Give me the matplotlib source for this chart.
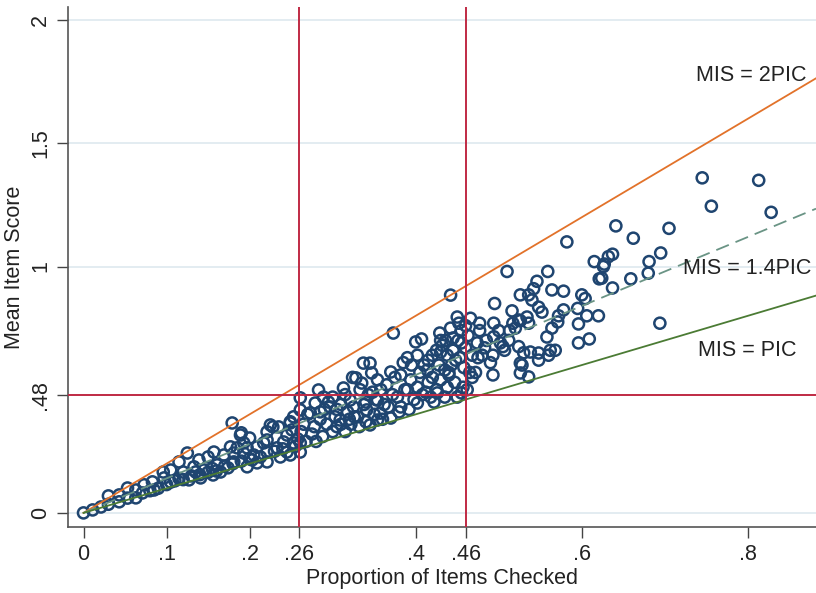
import matplotlib.pyplot as plt
import numpy as np

plt.rcParams['font.family'] = ['Liberation Sans', 'DejaVu Sans']

# Proportion of items checked (PIC) and mean item score (MIS)
pic_low = [0, 0.011, 0.021, 0.03, 0.03, 0.043, 0.043, 0.053, 0.053, 0.063, 0.063, 0.071,
           0.073, 0.08, 0.083, 0.085, 0.09, 0.096, 0.097, 0.1, 0.105, 0.105, 0.11, 0.115,
           0.115, 0.12, 0.12, 0.125, 0.127, 0.13, 0.133, 0.135, 0.139, 0.14, 0.141, 0.145,
           0.15, 0.15, 0.155, 0.156, 0.157, 0.16, 0.161, 0.165, 0.169, 0.17, 0.174, 0.177,
           0.179, 0.18, 0.181, 0.181, 0.185, 0.189, 0.19, 0.19, 0.193, 0.193, 0.197, 0.197,
           0.2, 0.2]
mis_low = [0, 0.012, 0.024, 0.035, 0.069, 0.045, 0.073, 0.06, 0.101, 0.061, 0.093, 0.081,
           0.114, 0.09, 0.126, 0.093, 0.1, 0.166, 0.142, 0.115, 0.174, 0.125, 0.13, 0.207,
           0.14, 0.166, 0.135, 0.243, 0.134, 0.15, 0.187, 0.166, 0.215, 0.155, 0.142, 0.174,
           0.227, 0.165, 0.18, 0.154, 0.247, 0.17, 0.195, 0.166, 0.235, 0.19, 0.183, 0.268,
           0.365, 0.2, 0.207, 0.243, 0.264, 0.316, 0.325, 0.21, 0.243, 0.284, 0.187, 0.264,
           0.304, 0.22]

pic_mid = [0.203, 0.205, 0.209, 0.209, 0.213, 0.217, 0.221, 0.221, 0.221, 0.221, 0.225, 0.228,
           0.23, 0.233, 0.235, 0.237, 0.24, 0.241, 0.245, 0.245, 0.249, 0.249, 0.249, 0.251,
           0.253, 0.253, 0.255, 0.258, 0.261, 0.261, 0.261, 0.261, 0.262, 0.265, 0.268, 0.27,
           0.273, 0.275, 0.278, 0.279, 0.28, 0.283, 0.285, 0.288, 0.289, 0.29, 0.293, 0.297,
           0.3, 0.3, 0.303, 0.305, 0.309, 0.31, 0.313, 0.315, 0.318, 0.321, 0.322, 0.324,
           0.326, 0.328, 0.33, 0.332, 0.335, 0.337, 0.338, 0.34, 0.341, 0.343, 0.345, 0.345,
           0.347, 0.35, 0.352, 0.354, 0.354, 0.354, 0.357, 0.358,
           0.285, 0.295, 0.305, 0.315, 0.325, 0.333, 0.34, 0.348, 0.31, 0.32]
mis_mid = [0.215, 0.235, 0.203, 0.268, 0.227, 0.284, 0.207, 0.247, 0.296, 0.329, 0.357, 0.349,
           0.25, 0.264, 0.349, 0.227, 0.26, 0.288, 0.247, 0.316, 0.235, 0.365, 0.37, 0.337,
           0.284, 0.39, 0.27, 0.3, 0.247, 0.284, 0.418, 0.467, 0.33, 0.36, 0.29, 0.4,
           0.406, 0.32, 0.35, 0.446, 0.29, 0.499, 0.38, 0.31, 0.47, 0.42, 0.36, 0.43,
           0.47, 0.33, 0.39, 0.35, 0.377, 0.44, 0.507, 0.33, 0.41, 0.458, 0.36, 0.55,
           0.39, 0.548, 0.39, 0.35, 0.527, 0.608, 0.44, 0.37, 0.418, 0.48, 0.608, 0.357,
           0.568, 0.4, 0.46, 0.54, 0.458, 0.377, 0.405, 0.5,
           0.41, 0.45, 0.42, 0.48, 0.43, 0.5, 0.45, 0.49, 0.36, 0.38]

pic_upper = [0.36, 0.362, 0.365, 0.367, 0.37, 0.37, 0.372, 0.373, 0.375, 0.378, 0.38, 0.382,
             0.382, 0.385, 0.387, 0.39, 0.39, 0.392, 0.394, 0.395, 0.398, 0.4, 0.402, 0.402,
             0.402, 0.405, 0.407, 0.408, 0.41, 0.412, 0.414, 0.415, 0.418, 0.42, 0.42, 0.422,
             0.425, 0.426, 0.428, 0.429, 0.43, 0.43, 0.432, 0.435, 0.436, 0.438, 0.438, 0.44,
             0.442, 0.442, 0.443, 0.445, 0.447, 0.448, 0.45, 0.45, 0.451, 0.452, 0.453, 0.455,
             0.455, 0.457, 0.458, 0.46, 0.462, 0.463, 0.465, 0.466, 0.468, 0.468,
             0.415, 0.425, 0.435, 0.445, 0.455, 0.46, 0.44, 0.43]
mis_upper = [0.38, 0.44, 0.52, 0.43, 0.572, 0.385, 0.48, 0.73, 0.55, 0.47, 0.41, 0.56,
             0.43, 0.61, 0.5, 0.63, 0.5, 0.42, 0.54, 0.6, 0.46, 0.694, 0.64, 0.51,
             0.446, 0.57, 0.706, 0.48, 0.6, 0.49, 0.58, 0.53, 0.47, 0.55, 0.64, 0.45,
             0.5, 0.487, 0.6, 0.73, 0.653, 0.54, 0.68, 0.47, 0.7, 0.64, 0.51, 0.56,
             0.884, 0.75, 0.6, 0.66, 0.53, 0.62, 0.795, 0.47, 0.7, 0.77, 0.63, 0.487,
             0.74, 0.51, 0.59, 0.67, 0.5, 0.72, 0.57, 0.79, 0.55, 0.64,
             0.62, 0.66, 0.58, 0.71, 0.69, 0.76, 0.57, 0.7]

pic_high = [0.472, 0.474, 0.475, 0.477, 0.477, 0.48, 0.483, 0.485, 0.49, 0.493, 0.493, 0.494,
            0.494, 0.495, 0.5, 0.502, 0.505, 0.507, 0.51, 0.512, 0.513, 0.516, 0.517, 0.52,
            0.524, 0.524, 0.526, 0.526, 0.526, 0.526, 0.528, 0.53, 0.534, 0.536, 0.536, 0.536,
            0.538, 0.54, 0.542, 0.546, 0.548, 0.548, 0.548, 0.552, 0.558, 0.559, 0.56, 0.562,
            0.564, 0.564, 0.568, 0.571, 0.572, 0.578, 0.578, 0.582, 0.595, 0.596, 0.596, 0.6,
            0.604, 0.606, 0.609, 0.615, 0.62, 0.621, 0.624, 0.626, 0.627, 0.632, 0.637, 0.637,
            0.641, 0.659, 0.662, 0.68, 0.681, 0.694, 0.695, 0.705, 0.745, 0.756, 0.813, 0.828]
mis_high = [0.57, 0.69, 0.63, 0.74, 0.77, 0.64, 0.67, 0.7, 0.61, 0.56, 0.64, 0.715,
            0.77, 0.85, 0.74, 0.69, 0.675, 0.66, 0.98, 0.7, 0.74, 0.82, 0.77, 0.75,
            0.783, 0.675, 0.885, 0.608, 0.568, 0.78, 0.6, 0.65, 0.795, 0.885, 0.77, 0.552,
            0.653, 0.864, 0.91, 0.94, 0.649, 0.62, 0.835, 0.815, 0.714, 0.98, 0.64, 0.66,
            0.905, 0.75, 0.66, 0.775, 0.8, 0.9, 0.824, 1.1, 0.83, 0.767, 0.69, 0.885,
            0.87, 0.8, 0.706, 1.02, 0.8, 0.95, 0.953, 1.0, 1.01, 1.04, 1.05, 0.913,
            1.165, 0.95, 1.115, 0.973, 1.02, 0.77, 1.055, 1.155, 1.36, 1.245, 1.35, 1.22]

pic = pic_low + pic_mid + pic_upper + pic_high
mis = mis_low + mis_mid + mis_upper + mis_high

slopes = [2, 1.4, 1]
line_labels = ['MIS = 2PIC', 'MIS = 1.4PIC', 'MIS = PIC']
label_pos = [(0.804, 1.777), (0.799, 0.994), (0.799, 0.661)]
cut_x = [0.26, 0.46]
cut_y = 0.48

xticks = [0, 0.1, 0.2, 0.26, 0.4, 0.46, 0.6, 0.8]
xticklabels = ['0', '.1', '.2', '.26', '.4', '.46', '.6', '.8']
yticks = [0, 0.48, 1, 1.5, 2]
yticklabels = ['0', '.48', '1', '1.5', '2']

fig = plt.figure(figsize=(8.16, 5.93), dpi=100)
ax = fig.add_axes([0.083, 0.111, 0.917, 0.877])

# light horizontal grid at the y ticks
for yt in yticks:
    ax.axhline(yt, color='#e1ebf0', lw=1.3, zorder=0)

ax.scatter(pic, mis, s=64, facecolors='none', edgecolors='#1f4570', linewidths=1.8, zorder=2)

xx = np.array([0, 0.882])
ax.plot(xx, slopes[0] * xx, color='#e2722a', lw=1.3, zorder=3)
ax.plot(xx, slopes[1] * xx, color='#6a9485', lw=1.3, ls=(0, (7.5, 4)), zorder=3)
ax.plot(xx, slopes[2] * xx, color='#4b7b34', lw=1.3, zorder=3)

for x0 in cut_x:
    ax.axvline(x0, color='#c02a44', lw=1.4, zorder=4)
ax.axhline(cut_y, color='#c02a44', lw=1.4, zorder=4)

for lab, (tx, ty) in zip(line_labels, label_pos):
    ax.text(tx, ty, lab, ha='center', va='center', fontsize=15.5, color='#222222', zorder=5)

ax.set_xlim(-0.019, 0.882)
ax.set_ylim(-0.058, 2.053)
ax.set_xticks(xticks)
ax.set_xticklabels(xticklabels)
ax.set_yticks(yticks)
ax.set_yticklabels(yticklabels, rotation=90, va='center')
ax.tick_params(axis='both', labelsize=15.5, length=8, width=1, color='#444444',
               labelcolor='#222222', pad=4)
ax.set_xlabel('Proportion of Items Checked', fontsize=15.5, color='#222222', labelpad=2)
ax.set_ylabel('Mean Item Score', fontsize=15.5, color='#222222', labelpad=4)

for side in ['top', 'right']:
    ax.spines[side].set_visible(False)
for side in ['left', 'bottom']:
    ax.spines[side].set_color('#555555')
    ax.spines[side].set_linewidth(1.2)

fig.savefig('out.png', dpi=100)
